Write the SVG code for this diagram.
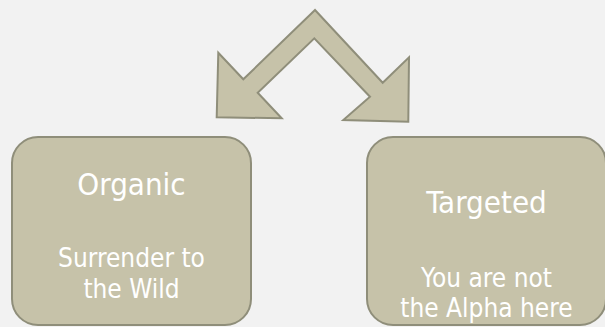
<svg xmlns="http://www.w3.org/2000/svg" width="605" height="327" viewBox="0 0 605 327">
<style>
.box{fill:#c6c2a9;stroke:#8f8e7a;stroke-width:2}
.arrow{fill:#c6c2a9;stroke:#8f8e7a;stroke-width:2;stroke-linejoin:miter}
.t{font-family:"DejaVu Sans Condensed","DejaVu Sans",sans-serif;font-stretch:condensed;fill:#ffffff;text-anchor:middle}
.title{font-size:31px}
.sub{font-size:26px}
</style>
<rect width="605" height="327" fill="#f2f2f2"/>
<g id="connectors">
<polygon class="arrow" points="315,10 243.3,79.3 218.3,52.7 216.7,117.3 281.7,118.3 257.7,92.7 314.3,38.3 370,96.7 343.3,120 408.3,121.7 409,57.3 382.7,82.7"/>
</g>
<g id="node-organic">
<rect class="box" x="12" y="137" width="239" height="188" rx="26"/>
<text class="t title" x="131.5" y="195">Organic</text>
<text class="t sub" x="131.5" y="267">Surrender to</text>
<text class="t sub" x="131.5" y="298">the Wild</text>
</g>
<g id="node-targeted">
<rect class="box" x="367" y="137" width="239" height="188" rx="26"/>
<text class="t title" x="486.5" y="213">Targeted</text>
<text class="t sub" x="486.5" y="287">You are not</text>
<text class="t sub" x="486.5" y="317">the Alpha here</text>
</g>
</svg>
